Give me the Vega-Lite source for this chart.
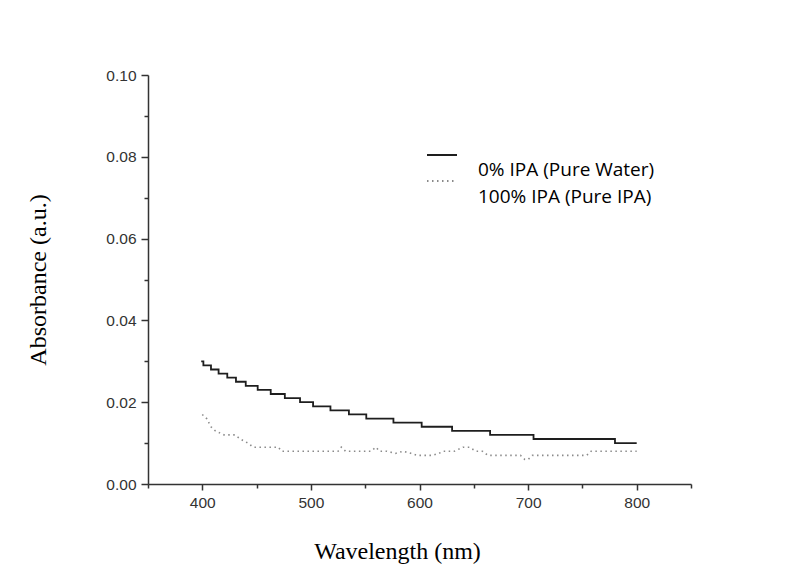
{
  "$schema": "https://vega.github.io/schema/vega-lite/v6.json",
  "width": 543,
  "height": 409,
  "autosize": {"type": "none"},
  "padding": {"left": 148, "top": 75, "right": 98, "bottom": 91},
  "background": "white",
  "config": {
    "view": {"stroke": null},
    "axis": {
      "grid": false,
      "domainColor": "#333333",
      "domainWidth": 1.5,
      "tickColor": "#333333",
      "tickWidth": 1.5,
      "labelFont": "Liberation Sans",
      "labelFontSize": 15.5,
      "labelColor": "#333333",
      "titleFont": "Liberation Serif",
      "titleFontWeight": "normal",
      "titleFontSize": 24,
      "titleColor": "#000000"
    }
  },
  "datasets": {
    "water": [
      {"series": "0% IPA (Pure Water)", "wavelength": 399, "absorbance": 0.030},
      {"series": "0% IPA (Pure Water)", "wavelength": 401, "absorbance": 0.029},
      {"series": "0% IPA (Pure Water)", "wavelength": 408, "absorbance": 0.028},
      {"series": "0% IPA (Pure Water)", "wavelength": 415, "absorbance": 0.027},
      {"series": "0% IPA (Pure Water)", "wavelength": 423, "absorbance": 0.026},
      {"series": "0% IPA (Pure Water)", "wavelength": 431, "absorbance": 0.025},
      {"series": "0% IPA (Pure Water)", "wavelength": 440, "absorbance": 0.024},
      {"series": "0% IPA (Pure Water)", "wavelength": 451, "absorbance": 0.023},
      {"series": "0% IPA (Pure Water)", "wavelength": 463, "absorbance": 0.022},
      {"series": "0% IPA (Pure Water)", "wavelength": 476, "absorbance": 0.021},
      {"series": "0% IPA (Pure Water)", "wavelength": 490, "absorbance": 0.020},
      {"series": "0% IPA (Pure Water)", "wavelength": 502, "absorbance": 0.019},
      {"series": "0% IPA (Pure Water)", "wavelength": 518, "absorbance": 0.018},
      {"series": "0% IPA (Pure Water)", "wavelength": 535, "absorbance": 0.017},
      {"series": "0% IPA (Pure Water)", "wavelength": 551, "absorbance": 0.016},
      {"series": "0% IPA (Pure Water)", "wavelength": 576, "absorbance": 0.015},
      {"series": "0% IPA (Pure Water)", "wavelength": 602, "absorbance": 0.014},
      {"series": "0% IPA (Pure Water)", "wavelength": 630, "absorbance": 0.013},
      {"series": "0% IPA (Pure Water)", "wavelength": 665, "absorbance": 0.012},
      {"series": "0% IPA (Pure Water)", "wavelength": 705, "absorbance": 0.011},
      {"series": "0% IPA (Pure Water)", "wavelength": 780, "absorbance": 0.010},
      {"series": "0% IPA (Pure Water)", "wavelength": 800, "absorbance": 0.010}
    ],
    "ipa": [
      {"series": "100% IPA (Pure IPA)", "wavelength": 400, "absorbance": 0.017},
      {"series": "100% IPA (Pure IPA)", "wavelength": 404, "absorbance": 0.016},
      {"series": "100% IPA (Pure IPA)", "wavelength": 408, "absorbance": 0.014},
      {"series": "100% IPA (Pure IPA)", "wavelength": 412, "absorbance": 0.013},
      {"series": "100% IPA (Pure IPA)", "wavelength": 416, "absorbance": 0.0125},
      {"series": "100% IPA (Pure IPA)", "wavelength": 420, "absorbance": 0.012},
      {"series": "100% IPA (Pure IPA)", "wavelength": 430, "absorbance": 0.012},
      {"series": "100% IPA (Pure IPA)", "wavelength": 435, "absorbance": 0.011},
      {"series": "100% IPA (Pure IPA)", "wavelength": 442, "absorbance": 0.010},
      {"series": "100% IPA (Pure IPA)", "wavelength": 447, "absorbance": 0.009},
      {"series": "100% IPA (Pure IPA)", "wavelength": 460, "absorbance": 0.009},
      {"series": "100% IPA (Pure IPA)", "wavelength": 470, "absorbance": 0.009},
      {"series": "100% IPA (Pure IPA)", "wavelength": 473, "absorbance": 0.008},
      {"series": "100% IPA (Pure IPA)", "wavelength": 490, "absorbance": 0.008},
      {"series": "100% IPA (Pure IPA)", "wavelength": 510, "absorbance": 0.008},
      {"series": "100% IPA (Pure IPA)", "wavelength": 525, "absorbance": 0.008},
      {"series": "100% IPA (Pure IPA)", "wavelength": 528, "absorbance": 0.009},
      {"series": "100% IPA (Pure IPA)", "wavelength": 532, "absorbance": 0.008},
      {"series": "100% IPA (Pure IPA)", "wavelength": 545, "absorbance": 0.008},
      {"series": "100% IPA (Pure IPA)", "wavelength": 555, "absorbance": 0.008},
      {"series": "100% IPA (Pure IPA)", "wavelength": 560, "absorbance": 0.009},
      {"series": "100% IPA (Pure IPA)", "wavelength": 563, "absorbance": 0.008},
      {"series": "100% IPA (Pure IPA)", "wavelength": 570, "absorbance": 0.008},
      {"series": "100% IPA (Pure IPA)", "wavelength": 578, "absorbance": 0.0075},
      {"series": "100% IPA (Pure IPA)", "wavelength": 585, "absorbance": 0.008},
      {"series": "100% IPA (Pure IPA)", "wavelength": 592, "absorbance": 0.0075},
      {"series": "100% IPA (Pure IPA)", "wavelength": 598, "absorbance": 0.007},
      {"series": "100% IPA (Pure IPA)", "wavelength": 605, "absorbance": 0.007},
      {"series": "100% IPA (Pure IPA)", "wavelength": 612, "absorbance": 0.007},
      {"series": "100% IPA (Pure IPA)", "wavelength": 618, "absorbance": 0.0075},
      {"series": "100% IPA (Pure IPA)", "wavelength": 622, "absorbance": 0.008},
      {"series": "100% IPA (Pure IPA)", "wavelength": 632, "absorbance": 0.008},
      {"series": "100% IPA (Pure IPA)", "wavelength": 640, "absorbance": 0.009},
      {"series": "100% IPA (Pure IPA)", "wavelength": 646, "absorbance": 0.009},
      {"series": "100% IPA (Pure IPA)", "wavelength": 652, "absorbance": 0.008},
      {"series": "100% IPA (Pure IPA)", "wavelength": 658, "absorbance": 0.008},
      {"series": "100% IPA (Pure IPA)", "wavelength": 663, "absorbance": 0.007},
      {"series": "100% IPA (Pure IPA)", "wavelength": 680, "absorbance": 0.007},
      {"series": "100% IPA (Pure IPA)", "wavelength": 693, "absorbance": 0.007},
      {"series": "100% IPA (Pure IPA)", "wavelength": 697, "absorbance": 0.006},
      {"series": "100% IPA (Pure IPA)", "wavelength": 700, "absorbance": 0.006},
      {"series": "100% IPA (Pure IPA)", "wavelength": 704, "absorbance": 0.007},
      {"series": "100% IPA (Pure IPA)", "wavelength": 720, "absorbance": 0.007},
      {"series": "100% IPA (Pure IPA)", "wavelength": 740, "absorbance": 0.007},
      {"series": "100% IPA (Pure IPA)", "wavelength": 754, "absorbance": 0.007},
      {"series": "100% IPA (Pure IPA)", "wavelength": 758, "absorbance": 0.008},
      {"series": "100% IPA (Pure IPA)", "wavelength": 770, "absorbance": 0.008},
      {"series": "100% IPA (Pure IPA)", "wavelength": 785, "absorbance": 0.008},
      {"series": "100% IPA (Pure IPA)", "wavelength": 800, "absorbance": 0.008}
    ]
  },
  "encoding": {
    "x": {
      "field": "wavelength",
      "type": "quantitative",
      "scale": {"domain": [350, 850], "nice": false},
      "axis": {
        "title": "Wavelength (nm)",
        "values": [350, 400, 450, 500, 550, 600, 650, 700, 750, 800, 850],
        "labelExpr": "datum.value % 100 == 0 ? datum.label : ''",
        "tickSize": {"condition": {"test": "datum.value % 100 == 0", "value": 6}, "value": 4},
        "labelPadding": 5,
        "labelFlush": false,
        "titlePadding": 29,
        "titleX": 249
      }
    },
    "y": {
      "field": "absorbance",
      "type": "quantitative",
      "scale": {"domain": [0, 0.1], "nice": false},
      "axis": {
        "title": "Absorbance (a.u.)",
        "values": [0, 0.01, 0.02, 0.03, 0.04, 0.05, 0.06, 0.07, 0.08, 0.09, 0.1],
        "labelExpr": "round(datum.value * 100) % 2 == 0 ? format(datum.value, '.2f') : ''",
        "tickSize": {"condition": {"test": "round(datum.value * 100) % 2 == 0", "value": 7}, "value": 4},
        "labelPadding": 5,
        "labelFlush": false,
        "titlePadding": 55
      }
    },
    "color": {
      "field": "series",
      "type": "nominal",
      "scale": {"domain": ["0% IPA (Pure Water)", "100% IPA (Pure IPA)"], "range": ["#1e1e1e", "#8a8a8a"]},
      "legend": {
        "title": null,
        "orient": "none",
        "legendX": 278,
        "legendY": 64,
        "values": ["0% IPA (Pure Water)"],
        "symbolType": "stroke",
        "symbolSize": 900,
        "symbolStrokeWidth": 2,
        "labelFont": "Open Sans",
        "labelFontSize": 19,
        "labelLimit": 500,
        "labelColor": "#000000",
        "labelOffset": 20,
        "encode": {"labels": {"update": {"dy": {"value": 15}}}}
      }
    },
    "strokeDash": {
      "field": "series",
      "type": "nominal",
      "scale": {"domain": ["100% IPA (Pure IPA)", "0% IPA (Pure Water)"], "range": [[1.5, 3.5], [1, 0]]},
      "legend": {
        "title": null,
        "orient": "none",
        "legendX": 278,
        "legendY": 90,
        "values": ["100% IPA (Pure IPA)"],
        "symbolType": "stroke",
        "symbolSize": 900,
        "symbolStrokeWidth": 2,
        "symbolStrokeColor": "#8a8a8a",
        "labelFont": "Open Sans",
        "labelFontSize": 19,
        "labelLimit": 500,
        "labelColor": "#000000",
        "labelOffset": 20,
        "encode": {"labels": {"update": {"dy": {"value": 16}}}}
      }
    }
  },
  "layer": [
    {
      "data": {"name": "water"},
      "mark": {"type": "line", "interpolate": "step-after", "strokeWidth": 1.8}
    },
    {
      "data": {"name": "ipa"},
      "mark": {"type": "line", "strokeWidth": 1.6}
    }
  ]
}
